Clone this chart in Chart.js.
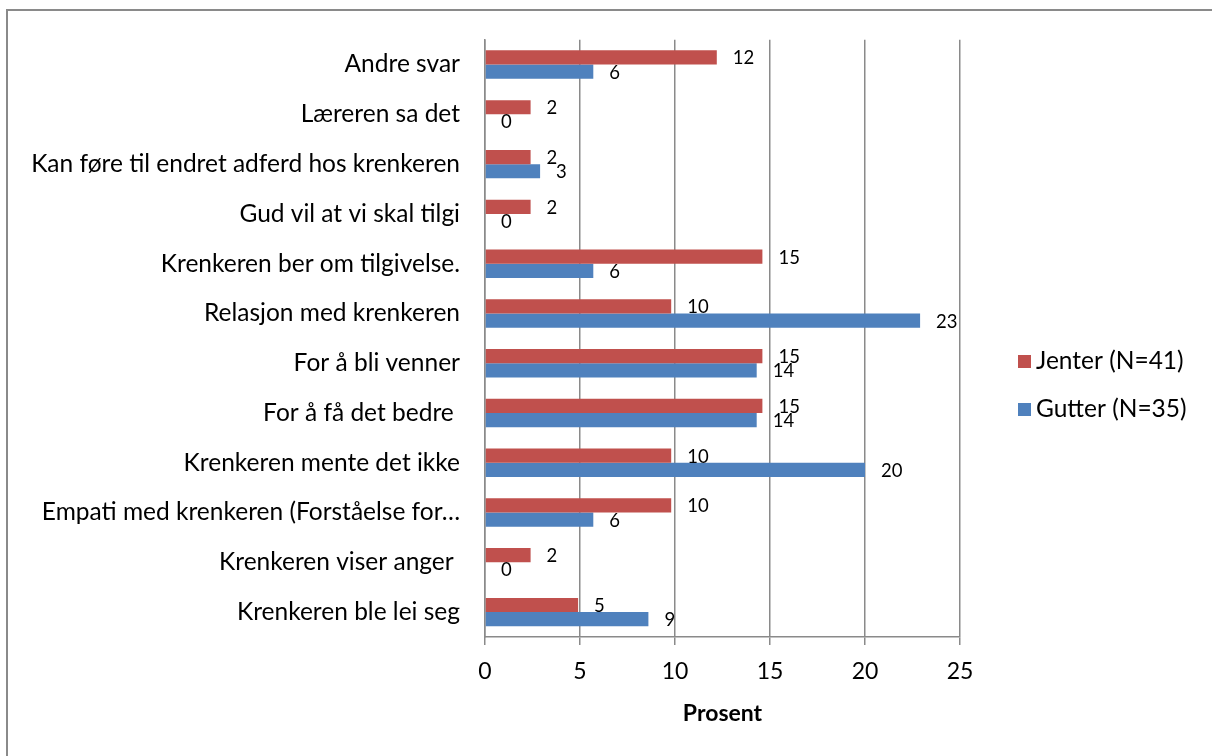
<!DOCTYPE html>
<html lang="no">
<head>
<meta charset="utf-8">
<title>Grunner til å tilgi</title>
<script src="https://cdn.jsdelivr.net/npm/chart.js@4.4.0/dist/chart.umd.min.js"></script>
<style>
  html, body { margin: 0; padding: 0; background: #fff; }
  .frame { position: relative; width: 1212px; height: 756px; overflow: hidden; }
  .frame .edge {
    position: absolute; left: 6px; top: 9px; right: -10px; bottom: -10px;
    border-left: 2px solid #8a8a8a; border-top: 2px solid #8a8a8a;
  }
  canvas { position: absolute; left: 0; top: 0; }
</style>
</head>
<body>
<div class="frame">
  <div class="edge"></div>
  <canvas id="forgiveChart" width="1212" height="756"></canvas>
</div>
<script>
// Answers, top to bottom
const categories = [
    'Andre svar',
    'Læreren sa det',
    'Kan føre til endret adferd hos krenkeren',
    'Gud vil at vi skal tilgi',
    'Krenkeren ber om tilgivelse.',
    'Relasjon med krenkeren',
    'For å bli venner',
    'For å få det bedre ',
    'Krenkeren mente det ikke',
    'Empati med krenkeren (Forståelse for…',
    'Krenkeren viser anger ',
    'Krenkeren ble lei seg'
];

// Percent of each group
const jenter = [12.2, 2.4, 2.4, 2.4, 14.6, 9.8, 14.6, 14.6, 9.8, 9.8, 2.4, 4.9];
const gutter = [5.7, 0, 2.9, 0, 5.7, 22.9, 14.3, 14.3, 20.0, 5.7, 0, 8.6];

const xTicks = [0, 5, 10, 15, 20, 25];

const FONT = 'Lato';
const GRID = '#8a8a8a';

// Rounded value next to the end of every bar
const valueLabels = {
    id: 'valueLabels',
    afterDatasetsDraw(chart) {
        const ctx = chart.ctx;
        ctx.save();
        ctx.font = '18.5px ' + FONT;
        ctx.fillStyle = '#000';
        ctx.textAlign = 'left';
        ctx.textBaseline = 'middle';
        chart.data.datasets.forEach((ds, i) => {
            chart.getDatasetMeta(i).data.forEach((bar, j) => {
                ctx.fillText(String(Math.round(ds.data[j])), bar.x + 16, bar.y + 1);
            });
        });
        ctx.restore();
    }
};

// Legend to the right of the plot
const sideLegend = {
    id: 'sideLegend',
    afterDraw(chart) {
        const ctx = chart.ctx;
        const left = chart.chartArea.right + 58;
        let y = chart.height / 2 - 17;
        ctx.save();
        ctx.font = '24.5px ' + FONT;
        ctx.textAlign = 'left';
        ctx.textBaseline = 'middle';
        chart.data.datasets.forEach(ds => {
            ctx.fillStyle = ds.backgroundColor;
            ctx.fillRect(left, y - 6, 13, 13);
            ctx.fillStyle = '#000';
            ctx.fillText(ds.label, left + 18, y);
            y += 48;
        });
        ctx.restore();
    }
};

const ctx = document.getElementById('forgiveChart').getContext('2d');
const forgiveChart = new Chart(ctx, {
    type: 'bar',
    data: {
        labels: categories,
        datasets: [{
            label: 'Jenter (N=41)',
            data: jenter,
            backgroundColor: '#C0504D'
        }, {
            label: 'Gutter (N=35)',
            data: gutter,
            backgroundColor: '#4F81BD'
        }]
    },
    options: {
        indexAxis: 'y',
        responsive: false,
        animation: false,
        categoryPercentage: 0.5714,
        barPercentage: 1,
        layout: {
            padding: { top: 38, right: 252, bottom: 0, left: 0 }
        },
        plugins: {
            legend: { display: false },
            tooltip: { enabled: false }
        },
        scales: {
            x: {
                min: 0,
                max: 25,
                afterBuildTicks: scale => {
                    scale.ticks = xTicks.map(v => ({ value: v }));
                },
                afterFit: scale => { scale.height = 119; },
                grid: { color: GRID, lineWidth: 1.5, tickLength: 8 },
                border: { color: GRID, width: 1.5 },
                ticks: {
                    color: '#000',
                    padding: 13,
                    font: { family: FONT, size: 23 }
                },
                title: {
                    display: true,
                    text: 'Prosent',
                    color: '#000',
                    font: { family: FONT, size: 23, weight: 'bold' },
                    padding: { top: 0, bottom: 29 }
                }
            },
            y: {
                afterFit: scale => { scale.width = 485; },
                grid: { display: false, drawTicks: false },
                border: { color: GRID, width: 1.5 },
                ticks: {
                    color: '#000',
                    padding: 25,
                    font: { family: FONT, size: 24.5 }
                }
            }
        }
    },
    plugins: [valueLabels, sideLegend]
});
</script>
</body>
</html>
